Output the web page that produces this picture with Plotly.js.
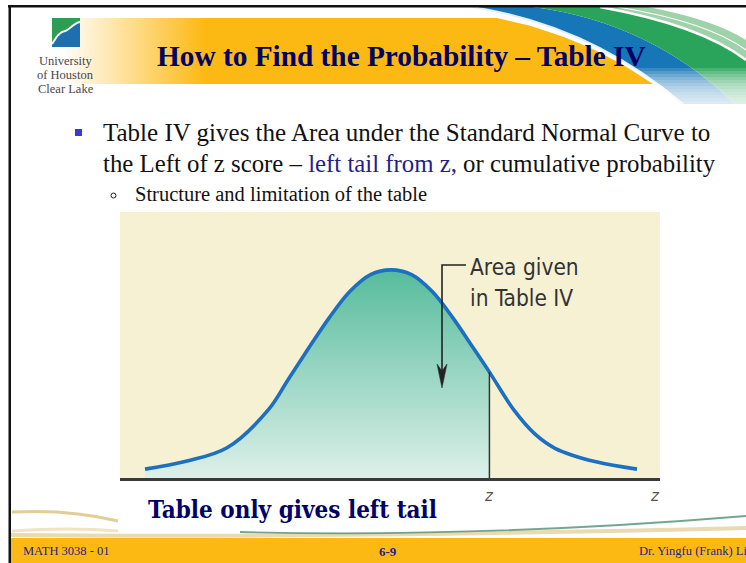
<!DOCTYPE html>
<html>
<head>
<meta charset="utf-8">
<script src="https://cdn.plot.ly/plotly-3.0.1.min.js"></script>
<style>
  html, body { margin: 0; padding: 0; background: #ffffff; }
  #chart { width: 746px; height: 563px; }
</style>
</head>
<body>
<div id="chart"></div>
<script>
// ---- Normal curve heights at selected z positions ----
const curveX = [-3, -2.5, -2, -1.5, -1.25, -1, -0.75, -0.5, -0.25, 0, 0.25, 0.5, 0.75, 1, 1.2, 1.5, 1.75, 2, 2.5, 3];
const curveY = [0.017, 0.032, 0.058, 0.13, 0.19, 0.25, 0.308, 0.358, 0.39, 0.399, 0.39, 0.358, 0.308, 0.25, 0.203, 0.13, 0.085, 0.057, 0.031, 0.017];
const zValue = 1.2;

// ---- Axis labels under the curve ----
const zLabelText = ['z', 'z'];
const zLabelX = [1.2, 3.22];

// ---- Slide text ----
const titleText = 'How to Find the Probability – Table IV';
const bulletLine1 = 'Table IV gives the Area under the Standard Normal Curve to';
const bulletLine2 = ['the Left of z score – ', 'left tail from z,', ' or cumulative probability'];
const subBulletText = 'Structure and limitation of the table';
const calloutLines = ['Area given', 'in Table IV'];
const captionText = 'Table only gives left tail';
const footerText = ['MATH 3038 - 01', '6-9', 'Dr. Yingfu (Frank) Li'];
const logoLines = ['University', 'of Houston', 'Clear Lake'];

// ---- Palette ----
const NAVY = '#000066';
const ORANGE = '#FDB913';
const CREAM = '#F7F1D4';
const CURVE_BLUE = '#1D6FBF';
const SERIF = 'Liberation Serif, Times New Roman, serif';
const NARROW = 'Liberation Sans Narrow, DejaVu Sans Condensed, Arial Narrow, sans-serif';

// Shaded area runs from the left end of the curve up to z
const iz = curveX.indexOf(zValue);
const fillX = curveX.slice(0, iz + 1);
const fillY = curveY.slice(0, iz + 1);

// Helpers: decoration drawn on the full-page axis (x: 0..746, y: 0..563 downward)
function rect(x0, y0, x1, y1, fill, layer) {
  return {type: 'rect', xref: 'x', yref: 'y', x0: x0, y0: y0, x1: x1, y1: y1,
          fillcolor: fill, line: {width: 0}, layer: layer || 'above'};
}
function path(d, fill, stroke, width) {
  return {type: 'path', xref: 'x', yref: 'y', path: d,
          fillcolor: fill || 'rgba(0,0,0,0)',
          line: {color: stroke || 'rgba(0,0,0,0)', width: width || 0}, layer: 'above'};
}
function label(text, x, y, size, color, opts) {
  return Object.assign({xref: 'x', yref: 'y', x: x, y: y, text: text, showarrow: false,
          xanchor: 'left', yanchor: 'middle',
          font: {family: SERIF, size: size, color: color}}, opts || {});
}

const traces = [
  // Header band: fades in from white to orange
  {
    type: 'scatter', xaxis: 'x', yaxis: 'y', mode: 'lines', hoverinfo: 'skip',
    x: [60, 497, 531, 564, 595, 625, 653, 60, 60],
    y: [18, 18, 26, 37, 50, 66, 84, 84, 18],
    fill: 'toself', line: {width: 0},
    fillgradient: {type: 'horizontal', start: 62, stop: 205,
                   colorscale: [[0, 'rgba(253,185,19,0)'], [1, 'rgba(253,185,19,1)']]}
  },
  // Area under the curve to the left of z
  {
    type: 'scatter', xaxis: 'x2', yaxis: 'y2', mode: 'lines', hoverinfo: 'skip',
    x: fillX, y: fillY, fill: 'tozeroy',
    line: {width: 0, shape: 'spline', smoothing: 1},
    fillgradient: {type: 'vertical', start: 0, stop: 0.4,
                   colorscale: [[0, '#DDF0E9'], [1, '#56BB9C']]}
  },
  // The standard normal curve
  {
    type: 'scatter', xaxis: 'x2', yaxis: 'y2', mode: 'lines', hoverinfo: 'skip',
    x: curveX, y: curveY,
    line: {color: CURVE_BLUE, width: 3.6, shape: 'spline', smoothing: 1}
  },
  // Vertical line at z
  {
    type: 'scatter', xaxis: 'x2', yaxis: 'y2', mode: 'lines', hoverinfo: 'skip',
    x: [zValue, zValue], y: [0, curveY[iz]],
    line: {color: '#333333', width: 1.5}
  }
];

// Gentle white fade over the lower end of the header swoosh,
// each step bounded on the left by the swoosh's inner edge
const fadeSteps = [];
for (let i = 0; i < 12; i++) {
  const y0 = 68 + i * 3;
  const xl = 634 + (y0 - 68) * 1.35;
  fadeSteps.push(path('M ' + xl + ',' + y0 + ' L 746,' + y0 + ' L 746,110 L 690,110 Z',
                      'rgba(255,255,255,0.15)'));
}

const shapes = [
  // Chart panel background
  rect(120, 212, 660, 478, CREAM, 'below'),

  // Blue and green swoosh across the header
  path('M 472,7 L 533,7 Q 650,22 735,104 L 683,104 Q 590,25 472,7 Z', '#1676B7'),
  path('M 533,7 L 600,7 Q 700,25 746,60 L 746,104 L 735,104 Q 650,22 533,7 Z', '#2AA45A'),
  path('M 600,7 L 648,7 Q 715,20 746,40 L 746,60 Q 700,25 600,7 Z', '#9ED3A9'),
  path('M 600,7 Q 700,25 746,60', null, '#FFFFFF', 2.4),
  path('M 618,7 Q 708,22 746,50', null, '#FFFFFF', 1.2),
  path('M 472,7 Q 590,25 683,104', null, '#E3F0F8', 2)
].concat(fadeSteps, [
  // Logo mark
  rect(52, 18, 80, 47, '#1E6FAF'),
  path('M 52,18 L 80,18 L 80,22 C 73,23 70,30 65,31 C 59,32 56,38 52,44 Z', '#2E9C52'),
  path('M 52,44 C 56,38 59,32 65,31 C 70,30 73,23 80,22', null, '#FFFFFF', 2),

  // Bullet markers
  rect(75, 129, 82, 136, '#3A3AD0'),
  {type: 'circle', xref: 'x', yref: 'y', x0: 111, y0: 193, x1: 116, y1: 198,
   line: {color: '#222222', width: 1}, fillcolor: 'rgba(0,0,0,0)', layer: 'above'},

  // Callout bracket and arrow
  path('M 466,265 L 442,265 L 442,372', null, '#222222', 1.6),
  path('M 437,364 L 442,388 L 447,364 L 442,371 Z', '#222222', '#222222', 0.5),

  // Bottom decoration lines
  path('M 12,512 Q 70,509 118,521', null, 'rgba(220,196,132,0.85)', 3),
  path('M 12,531 Q 70,527 118,531', null, 'rgba(236,220,176,0.8)', 3),
  path('M 10,535 Q 320,538 746,528', null, 'rgba(226,206,150,0.75)', 4),
  path('M 240,532 Q 480,538 746,516', null, 'rgba(90,150,125,0.85)', 1.8),

  // Footer bar
  rect(10, 538, 746, 563, ORANGE),

  // Slide frame
  rect(8, 5, 746, 7.5, '#111111'),
  rect(8.5, 5, 11, 563, '#111111')
]);

const zFont = {family: 'DejaVu Sans, sans-serif', size: 15, color: '#555555', style: 'italic'};

const annotations = [
  // Title
  label(titleText, 401, 56, 29.3, NAVY, {xanchor: 'center', font: {family: SERIF, size: 29.3, color: NAVY, weight: 700}}),

  // Logo text
  label(logoLines[0], 65.5, 61, 12.5, '#474747', {xanchor: 'center'}),
  label(logoLines[1], 65.5, 75, 12.5, '#474747', {xanchor: 'center'}),
  label(logoLines[2], 65.5, 89, 12.5, '#474747', {xanchor: 'center'}),

  // Bullet text
  label(bulletLine1, 101, 132, 25, '#111111'),
  label(bulletLine2[0] + '<span style="color:#1E1E8C">' + bulletLine2[1] + '</span>' + bulletLine2[2],
        101, 163, 24.8, '#111111'),
  label(subBulletText, 133, 194, 20.5, '#111111'),

  // Callout text
  label(calloutLines[0], 468, 267, 22.5, '#333333',
        {font: {family: NARROW, size: 22.5, color: '#333333'}}),
  label(calloutLines[1], 468, 298, 22.5, '#333333',
        {font: {family: NARROW, size: 22.5, color: '#333333'}}),

  // z labels under the baseline
  {xref: 'x2', yref: 'y', x: zLabelX[0], y: 496, text: '<i>' + zLabelText[0] + '</i>', showarrow: false,
   xanchor: 'center', yanchor: 'middle', font: zFont},
  {xref: 'x2', yref: 'y', x: zLabelX[1], y: 496, text: '<i>' + zLabelText[1] + '</i>', showarrow: false,
   xanchor: 'center', yanchor: 'middle', font: zFont},

  // Caption
  label(captionText, 146, 509, 24, NAVY,
        {font: {family: 'DejaVu Serif Condensed, DejaVu Serif, serif', size: 24, color: NAVY, weight: 700}}),

  // Footer
  label(footerText[0], 21, 551, 12.5, '#1E1E8C'),
  label(footerText[1], 388, 551, 13, '#1E1E8C',
        {xanchor: 'center', font: {family: SERIF, size: 13, color: '#1E1E8C', weight: 700}}),
  label(footerText[2], 637, 551, 12.5, '#1E1E8C')
];

const layout = {
  width: 746, height: 563,
  margin: {l: 0, r: 0, t: 0, b: 0, pad: 0},
  paper_bgcolor: '#FFFFFF',
  plot_bgcolor: 'rgba(0,0,0,0)',
  showlegend: false,
  // full-page axis used for the slide decoration
  xaxis: {domain: [0, 1], range: [0, 746], visible: false, fixedrange: true},
  yaxis: {domain: [0, 1], range: [563, 0], visible: false, fixedrange: true},
  // the chart itself
  xaxis2: {domain: [120 / 746, 660 / 746], anchor: 'y2', range: [-3.305, 3.28],
           showline: true, linecolor: '#3A3A3A', linewidth: 2.5,
           showgrid: false, zeroline: false, ticks: '', showticklabels: false, fixedrange: true},
  yaxis2: {domain: [1 - 478 / 563, 1 - 212 / 563], anchor: 'x2', range: [0, 0.51],
           showline: false, showgrid: false, zeroline: false, ticks: '', showticklabels: false, fixedrange: true},
  shapes: shapes,
  annotations: annotations
};

Plotly.newPlot('chart', traces, layout, {staticPlot: true, displayModeBar: false});
</script>
</body>
</html>
